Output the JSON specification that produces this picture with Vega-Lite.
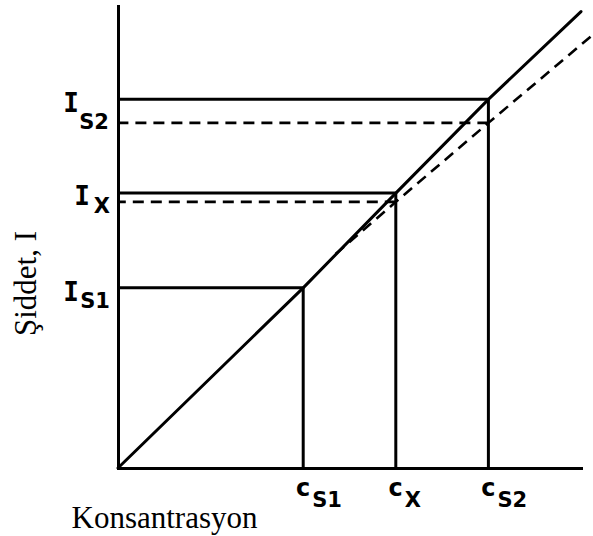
{
  "$schema": "https://vega.github.io/schema/vega-lite/v6.json",
  "width": 463,
  "height": 462,
  "autosize": {"type": "none"},
  "padding": {"left": 118, "top": 6, "right": 12, "bottom": 68},
  "background": "white",
  "config": {
    "view": {"stroke": null},
    "axisX": {
      "domain": true, "domainColor": "black", "domainWidth": 3, "domainCap": "square",
      "ticks": false, "labels": false, "grid": false,
      "titleFont": "Liberation Serif", "titleFontSize": 31, "titleFontWeight": "normal", "titleColor": "black",
      "titleX": 46, "titleY": 59, "titleAlign": "center", "titleBaseline": "alphabetic"
    },
    "axisY": {
      "domain": true, "domainColor": "black", "domainWidth": 3, "domainCap": "square",
      "ticks": false, "labels": false, "grid": false,
      "titleFont": "Liberation Serif", "titleFontSize": 31, "titleFontWeight": "normal", "titleColor": "black",
      "titleX": -83, "titleY": 277, "titleAngle": 270, "titleAlign": "center", "titleBaseline": "alphabetic"
    }
  },
  "datasets": {
    "calib": [
      {"c": 0, "I": 0},
      {"c": 4, "I": 3.9},
      {"c": 6, "I": 5.95},
      {"c": 8, "I": 7.98},
      {"c": 10, "I": 9.88}
    ],
    "matrix": [
      {"c": 4.7, "I": 4.63},
      {"c": 6, "I": 5.76},
      {"c": 8, "I": 7.47},
      {"c": 10.26, "I": 9.38}
    ],
    "std": [
      {"name": "S1", "c": 4, "I": 3.9},
      {"name": "X", "c": 6, "I": 5.95},
      {"name": "S2", "c": 8, "I": 7.98}
    ],
    "levels": [
      {"name": "X", "c": 6, "I": 5.76},
      {"name": "S2", "c": 8, "I": 7.47}
    ]
  },
  "layer": [
    {
      "data": {"name": "calib"},
      "mark": {"type": "line", "color": "black", "strokeWidth": 3, "strokeCap": "round"},
      "encoding": {
        "x": {"field": "c", "type": "quantitative", "scale": {"domain": [0, 10], "nice": false, "zero": false}, "axis": {"title": "Konsantrasyon"}},
        "y": {"field": "I", "type": "quantitative", "scale": {"domain": [0, 10], "nice": false, "zero": false}, "axis": {"title": "Şiddet, I"}}
      }
    },
    {
      "data": {"name": "matrix"},
      "mark": {"type": "line", "color": "black", "strokeWidth": 2.6, "strokeDash": [11, 7]},
      "encoding": {
        "x": {"field": "c", "type": "quantitative"},
        "y": {"field": "I", "type": "quantitative"}
      }
    },
    {
      "data": {"name": "std"},
      "mark": {"type": "rule", "color": "black", "strokeWidth": 3},
      "encoding": {
        "x": {"field": "c", "type": "quantitative"},
        "x2": {"datum": 0},
        "y": {"field": "I", "type": "quantitative"}
      }
    },
    {
      "data": {"name": "std"},
      "mark": {"type": "rule", "color": "black", "strokeWidth": 3},
      "encoding": {
        "x": {"field": "c", "type": "quantitative"},
        "y": {"field": "I", "type": "quantitative"},
        "y2": {"datum": 0}
      }
    },
    {
      "data": {"name": "levels"},
      "mark": {"type": "rule", "color": "black", "strokeWidth": 2.6, "strokeDash": [11, 7]},
      "encoding": {
        "x": {"field": "c", "type": "quantitative"},
        "x2": {"datum": 0},
        "y": {"field": "I", "type": "quantitative"}
      }
    },
    {
      "data": {"name": "std"},
      "mark": {"type": "text", "text": "c", "font": "DejaVu Sans", "fontSize": 24, "fontWeight": "bold", "color": "black", "align": "right", "baseline": "alphabetic", "dx": 7, "dy": 28},
      "encoding": {
        "x": {"field": "c", "type": "quantitative"},
        "y": {"datum": 0, "type": "quantitative"}
      }
    },
    {
      "data": {"name": "std"},
      "mark": {"type": "text", "font": "DejaVu Sans", "fontSize": 21, "fontWeight": "bold", "color": "black", "align": "left", "baseline": "alphabetic", "dx": 9, "dy": 39},
      "encoding": {
        "x": {"field": "c", "type": "quantitative"},
        "y": {"datum": 0, "type": "quantitative"},
        "text": {"field": "name"}
      }
    },
    {
      "data": {"name": "std"},
      "transform": [{"filter": "datum.name === 'X'"}],
      "mark": {"type": "text", "text": "I", "font": "DejaVu Sans Mono", "fontSize": 26, "fontWeight": "bold", "color": "black", "align": "right", "baseline": "alphabetic", "dx": -28, "dy": 12},
      "encoding": {
        "x": {"datum": 0, "type": "quantitative"},
        "y": {"field": "I", "type": "quantitative"}
      }
    },
    {
      "data": {"name": "std"},
      "transform": [{"filter": "datum.name !== 'X'"}],
      "mark": {"type": "text", "text": "I", "font": "DejaVu Sans Mono", "fontSize": 26, "fontWeight": "bold", "color": "black", "align": "right", "baseline": "alphabetic", "dx": -39, "dy": 13},
      "encoding": {
        "x": {"datum": 0, "type": "quantitative"},
        "y": {"field": "I", "type": "quantitative"}
      }
    },
    {
      "data": {"name": "std"},
      "transform": [{"filter": "datum.name !== 'S2'"}],
      "mark": {"type": "text", "font": "DejaVu Sans", "fontSize": 21, "fontWeight": "bold", "color": "black", "align": "right", "baseline": "alphabetic", "dx": -8, "dy": 20},
      "encoding": {
        "x": {"datum": 0, "type": "quantitative"},
        "y": {"field": "I", "type": "quantitative"},
        "text": {"field": "name"}
      }
    },
    {
      "data": {"name": "std"},
      "transform": [{"filter": "datum.name === 'S2'"}],
      "mark": {"type": "text", "font": "DejaVu Sans", "fontSize": 21, "fontWeight": "bold", "color": "black", "align": "right", "baseline": "alphabetic", "dx": -9, "dy": 30},
      "encoding": {
        "x": {"datum": 0, "type": "quantitative"},
        "y": {"field": "I", "type": "quantitative"},
        "text": {"field": "name"}
      }
    }
  ]
}
